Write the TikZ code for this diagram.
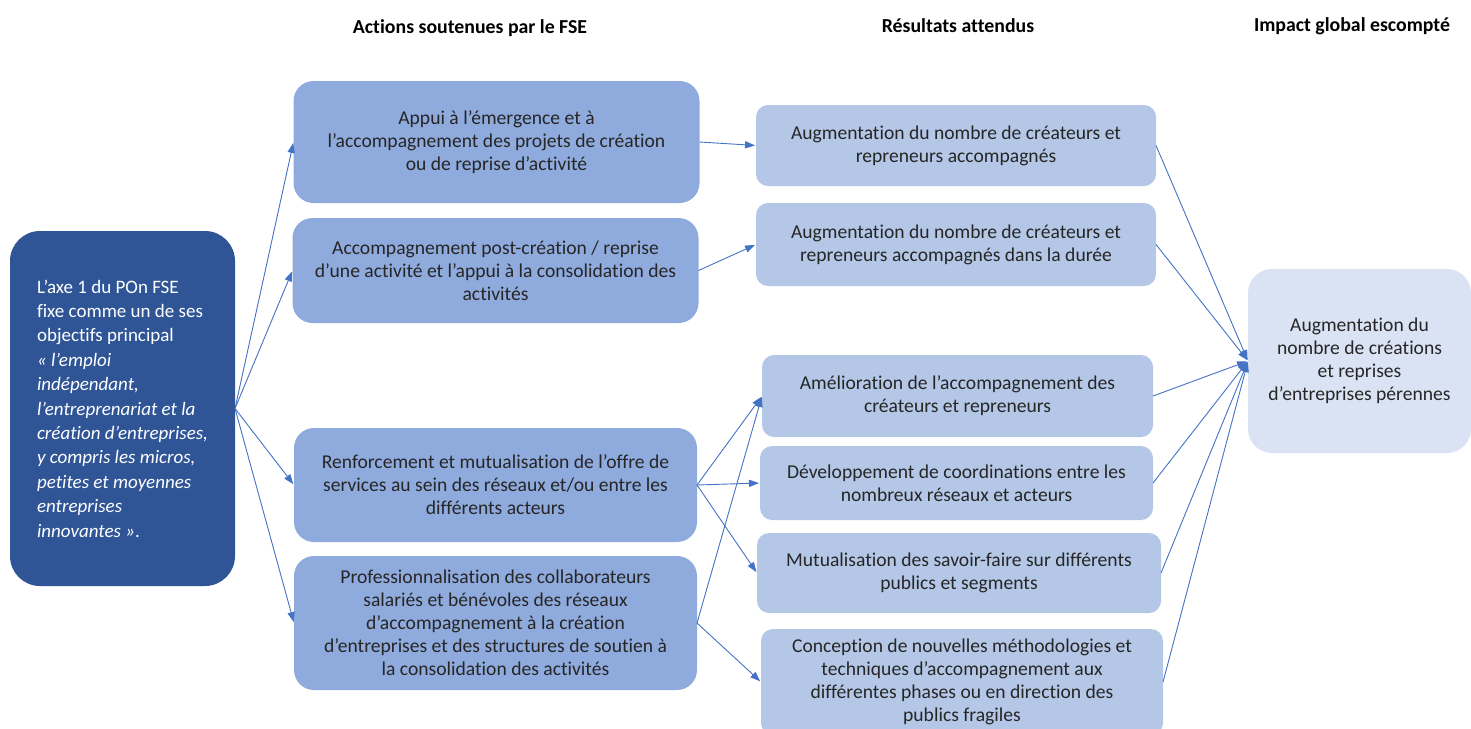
\documentclass[tikz,border=0pt]{standalone}
\usepackage{fontspec}
\setmainfont{Carlito}[Ligatures=NoCommon]
\usetikzlibrary{arrows.meta}

\definecolor{axeblue}{HTML}{2F5597}
\definecolor{actblue}{HTML}{8FAADC}
\definecolor{resblue}{HTML}{B4C7E7}
\definecolor{impblue}{HTML}{DAE3F3}
\definecolor{linkblue}{HTML}{4472C4}

\begin{document}
\begin{tikzpicture}[
x=0.5pt, y=-0.5pt,
  Box/.style = {rectangle, inner sep=0pt, outer sep=0pt, align=center,
                font=\fontsize{9.8}{11.5}\selectfont, text=black!85},% common look of boxes
  Axe/.style = {Box, fill=axeblue, rounded corners=15pt, text=white, align=left,
                minimum width=112.5pt, minimum height=177.5pt,
                font=\fontsize{9.5}{12.2}\selectfont},
  Act/.style = {Box, fill=actblue, rounded corners=10pt,
                minimum width=203pt},
  Res/.style = {Box, fill=resblue, rounded corners=6pt,
                minimum width=200pt},
  Imp/.style = {Box, fill=impblue, rounded corners=12pt,
                minimum width=111.5pt, minimum height=92pt},
 Head/.style = {font=\fontsize{9.9}{11}\selectfont\bfseries},
  arr/.style = {draw=linkblue, line width=0.45pt,
                -{Triangle[length=5pt, width=3.6pt]}, shorten >=0.5pt},
                        ]
\useasboundingbox (0,0) rectangle (1471,728);
% column titles
\node[Head] (H1) at (470,28) {Actions soutenues par le FSE};
\node[Head] (H2) at (958,26) {Résultats attendus};
\node[Head] (H3) at (1352,26) {Impact global escompté};
% objective
\node[Axe] (L) at (122.5,408.5) {L’axe 1 du POn FSE\\ fixe comme un de ses\\ objectifs principal\\
  \itshape « l’emploi\\ \itshape indépendant,\\ \itshape l’entreprenariat et la\\
  \itshape création d’entreprises,\\ \itshape y compris les micros,\\
  \itshape petites et moyennes\\ \itshape entreprises\\ \itshape innovantes »\upshape.};
% actions
\node[Act, minimum height=61pt] (A1) at (496.5,142)
  {Appui à l’émergence  et à\\ l’accompagnement des projets de création\\ ou de reprise d’activité};
\node[Act, minimum height=52.5pt] (A2) at (495.5,270.5)
  {Accompagnement post-création / reprise\\ d’une activité et l’appui à la consolidation des\\ activités};
\node[Act, minimum height=57pt, minimum width=201.5pt] (A3) at (495.5,485)
  {Renforcement et  mutualisation de l’offre de\\ services au sein des réseaux et/ou entre les\\ différents acteurs};
\node[Act, minimum height=67pt, minimum width=201.5pt] (A4) at (495.5,623)
  {Professionnalisation des collaborateurs\\ salariés et bénévoles des réseaux\\ d’accompagnement à la création\\
   d’entreprises et des structures de soutien à\\ la consolidation des activités};
% results
\node[Res, minimum height=40.5pt] (R1) at (956,145.5)
  {Augmentation du nombre de créateurs et\\ repreneurs  accompagnés};
\node[Res, minimum height=41.5pt] (R2) at (956,244.5)
  {Augmentation du nombre de  créateurs et\\ repreneurs  accompagnés dans la durée};
\node[Res, minimum height=41pt, minimum width=195.5pt] (R3) at (957.5,396)
  {Amélioration de l’accompagnement des\\ créateurs et repreneurs};
\node[Res, minimum height=37pt, minimum width=196.5pt] (R4) at (956.5,483)
  {Développement de coordinations entre les\\ nombreux réseaux et acteurs};
\node[Res, minimum height=40pt, minimum width=202pt] (R5) at (959,573)
  {Mutualisation des savoir-faire sur différents\\ publics et segments};
\node[Res, minimum height=53pt, minimum width=201pt] (R6) at (962,682)
  {Conception de nouvelles méthodologies et\\ techniques d’accompagnement aux\\
   différentes phases ou en direction des\\ publics fragiles};
% impact
\node[Imp] (I) at (1359.5,361)
  {Augmentation du\\ nombre de créations\\ et reprises\\ d’entreprises  pérennes};
% links
\foreach \a in {A1,A2,A3,A4}
    \draw[arr] (L.east) -- (\a.west);
\draw[arr] (A1.east) -- (R1.west);
\draw[arr] (A2.east) -- (R2.west);
\foreach \r in {R3,R4,R5}
    \draw[arr] (A3.east) -- (\r.west);
\foreach \r in {R3,R6}
    \draw[arr] (A4.east) -- (\r.west);
\foreach \r in {R1,R2,R3,R4,R5,R6}
    \draw[arr] (\r.east) -- (I.west);
\end{tikzpicture}
\end{document}
